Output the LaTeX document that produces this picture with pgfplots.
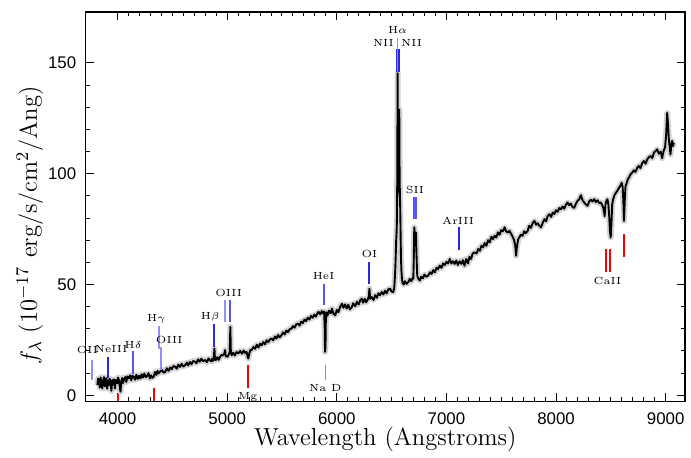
\documentclass[border=0pt]{standalone}
\usepackage{fontspec}
\usepackage{pgfplots}
\pgfplotsset{compat=1.18}
\newfontfamily\sansnum{Liberation Sans}
\newcommand\lbl{\fontsize{5.2}{6}\selectfont}
\definecolor{lineblue}{RGB}{40,40,235}
\definecolor{midblue}{RGB}{85,85,240}
\definecolor{lightblue}{RGB}{145,145,245}
\definecolor{linered}{RGB}{250,0,0}

% spectrum (Angstrom, flux)
\pgfplotstableread{
lam flux
3816 4.6
3823 7.5
3830 6.9
3838 3.5
3846 8.0
3853 5.0
3861 3.1
3868 6.5
3876 8.2
3884 4.0
3891 6.1
3899 7.8
3906 3.0
3914 6.8
3921 4.6
3929 7.5
3937 5.5
3944 2.0
3952 6.9
3960 5.0
3968 7.2
3976 3.1
3984 7.0
3990 5.5
3997 5.4
4005 8.0
4012 6.9
4020 4.0
4027 1.6
4035 6.5
4043 7.8
4050 5.5
4058 6.9
4070 8.2
4080 6.0
4090 8.5
4103 7.6
4115 9.0
4125 6.8
4136 8.8
4148 8.4
4160 7.0
4172 9.2
4185 7.4
4197 8.8
4209 7.6
4220 9.5
4232 8.0
4245 9.8
4258 8.2
4270 8.8
4282 10.0
4295 7.6
4305 9.0
4318 7.9
4330 8.4
4342 10.5
4355 9.2
4365 11.0
4375 9.9
4390 10.8
4406 11.4
4420 10.2
4436 10.6
4450 12.2
4465 11.0
4480 12.5
4495 11.8
4510 13.2
4527 12.9
4540 12.0
4555 13.8
4570 12.8
4585 14.2
4600 13.0
4618 13.6
4632 14.8
4645 13.5
4660 15.0
4675 14.0
4690 15.5
4708 15.1
4720 14.5
4735 16.2
4750 15.2
4765 16.5
4780 15.4
4799 15.9
4815 15.0
4830 16.6
4845 15.6
4855 15.4
4862 16.5
4870 15.5
4878 17.0
4884 21.1
4889 16.0
4897 15.9
4910 17.2
4922 16.0
4936 17.4
4948 18.2
4962 18.0
4975 19.0
4981 20.4
4988 17.5
4998 17.8
5005 17.4
5015 18.5
5024 19.5
5029 30.9
5034 19.0
5042 18.1
5055 19.2
5070 18.0
5085 19.5
5102 18.9
5118 20.0
5135 18.8
5150 20.2
5165 19.0
5178 19.6
5186 17.5
5193 16.6
5200 18.5
5212 20.5
5224 20.4
5240 21.8
5255 21.0
5270 22.8
5285 21.6
5300 23.2
5314 22.6
5330 24.0
5345 23.0
5360 24.8
5375 24.0
5390 25.2
5405 25.6
5420 24.8
5435 26.5
5450 25.6
5465 27.2
5480 26.2
5496 27.1
5510 28.4
5525 27.5
5540 29.2
5555 28.5
5570 29.8
5587 30.1
5600 31.2
5615 30.5
5630 32.0
5647 32.3
5660 31.5
5675 33.2
5690 32.6
5705 34.2
5720 33.5
5735 35.0
5750 34.2
5765 35.8
5780 35.0
5795 36.4
5810 35.5
5825 37.2
5835 37.6
5850 36.5
5862 38.0
5875 37.0
5885 37.8
5890 30.0
5893 19.6
5897 22.0
5900 33.0
5906 37.5
5915 36.0
5930 38.2
5945 37.0
5956 39.1
5970 36.8
5986 36.1
6000 38.5
6015 37.5
6030 39.8
6047 41.3
6060 39.5
6075 41.0
6090 39.2
6105 40.8
6120 38.8
6137 39.8
6150 41.5
6168 40.2
6185 42.2
6200 41.0
6215 43.0
6228 43.6
6240 41.8
6255 43.5
6268 42.0
6280 43.0
6292 44.5
6298 48.1
6304 43.5
6319 44.3
6335 43.0
6350 45.2
6365 44.0
6380 46.0
6395 45.2
6410 46.6
6425 45.5
6440 47.2
6455 46.0
6470 47.8
6486 48.1
6500 46.8
6516 46.6
6525 49.0
6532 55.0
6537 61.5
6542 70.0
6546 73.7
6549 80.0
6552 100.0
6555 145.4
6558 110.0
6561 91.6
6564 95.0
6567 115.0
6570 128.9
6573 100.0
6576 90.0
6579 84.0
6583 70.0
6586 61.5
6590 56.0
6594 53.0
6598 51.1
6610 50.0
6622 51.5
6637 50.3
6652 51.1
6665 52.5
6680 51.5
6692 53.0
6698 52.6
6702 60.0
6707 75.8
6711 70.0
6716 67.5
6719 70.0
6722 73.5
6727 64.0
6731 58.0
6734 54.0
6745 52.5
6758 51.8
6770 53.5
6785 52.8
6800 54.5
6815 53.5
6834 54.0
6850 55.5
6865 54.8
6880 56.5
6895 55.5
6910 57.5
6925 57.0
6940 58.5
6955 57.5
6970 59.5
6985 58.8
7000 60.2
7015 59.5
7031 61.5
7045 59.5
7060 60.5
7076 59.3
7090 60.8
7105 58.8
7120 60.5
7137 59.3
7150 61.0
7165 58.5
7180 61.5
7197 59.5
7210 62.5
7225 61.5
7240 64.0
7258 64.5
7275 64.0
7290 66.0
7305 65.2
7320 67.5
7335 66.8
7349 68.7
7365 67.5
7380 70.0
7395 69.0
7410 71.5
7425 70.5
7440 72.0
7455 71.2
7470 73.5
7485 72.5
7500 74.5
7515 74.0
7531 75.8
7545 74.0
7560 73.5
7575 74.2
7591 72.8
7605 71.5
7618 70.0
7628 67.5
7636 63.0
7643 67.0
7655 70.5
7667 71.4
7680 72.5
7695 72.0
7710 74.0
7725 73.2
7742 74.3
7755 76.5
7770 75.5
7788 77.8
7803 78.7
7818 77.0
7833 77.6
7848 76.5
7863 75.8
7880 78.0
7895 79.5
7910 78.5
7925 81.0
7939 81.7
7955 80.5
7970 82.5
7985 81.8
8000 83.5
8015 82.8
8030 84.5
8045 84.0
8060 85.2
8075 84.2
8090 86.0
8106 87.0
8120 85.8
8135 86.5
8150 85.0
8166 84.6
8182 86.5
8197 87.8
8212 88.5
8227 90.3
8242 88.0
8257 87.0
8272 86.2
8287 85.5
8302 87.5
8317 88.2
8333 87.5
8348 88.5
8363 87.2
8378 88.0
8393 86.8
8408 87.0
8420 86.0
8432 84.5
8444 80.8
8452 86.5
8462 88.0
8469 88.5
8478 86.0
8486 80.0
8492 74.0
8499 71.2
8506 78.0
8512 86.0
8521 88.5
8535 90.5
8548 91.5
8562 92.5
8575 93.7
8587 94.5
8599 95.9
8608 94.0
8614 88.0
8620 78.7
8627 88.0
8634 94.5
8641 95.2
8655 97.5
8668 98.5
8680 99.7
8695 100.5
8710 101.5
8725 100.8
8741 102.7
8755 103.5
8770 102.5
8786 104.8
8802 105.7
8817 104.5
8832 106.5
8848 107.5
8863 108.0
8878 107.0
8893 109.5
8908 110.2
8923 111.0
8938 109.0
8955 110.0
8968 107.0
8980 110.0
8995 112.0
9005 118.0
9014 127.4
9022 122.0
9029 115.5
9037 112.0
9044 108.7
9052 113.0
9059 114.8
9067 112.5
9075 114.0
}\spec

\begin{document}
\begin{tikzpicture}
\begin{axis}[
  scale only axis,
  width=301bp, height=195.5bp,
  xmin=3709, xmax=9177,
  ymin=-2.7, ymax=173,
  xtick={4000,5000,...,9000},
  ytick={0,50,100,150},
  minor x tick num=9,
  minor y tick num=4,
  tick align=inside,
  major tick length=4bp,
  minor tick length=2bp,
  axis line style={line width=0.6bp},
  every tick/.style={black, line width=0.5bp},
  ticklabel style={font=\sansnum\fontsize{8.5}{9}\selectfont},
  xticklabel style={yshift=-2bp},
  yticklabel style={xshift=-1.2bp},
  /pgf/number format/assume math mode=true,
  /pgf/number format/1000 sep={},
  xlabel={Wavelength (Angstroms)},
  ylabel={$f_\lambda$ (10$^{-17}$ erg/s/cm$^2$/Ang)},
  label style={font=\fontsize{12.4}{14}\selectfont},
  xlabel style={at={(axis description cs:0.5,-0.097)}, anchor=center},
  ylabel style={at={(axis description cs:-0.093,0.452)}, anchor=center},
  clip=false,
]
% error band and spectrum
\addplot[gray!35, line width=3bp, line join=round] table[x=lam, y=flux] {\spec};
\addplot[black, line width=0.95bp, line join=round] table[x=lam, y=flux] {\spec};

% emission line markers
\addplot[lightblue, line width=1bp] coordinates {(3770,6.9) (3770,15.9)};
\addplot[lineblue, line width=1bp] coordinates {(3916,7.6) (3916,17.5)};
\addplot[midblue, line width=1bp] coordinates {(4143,9.4) (4143,19.8)};
\addplot[lightblue, line width=1bp] coordinates {(4375,21.1) (4375,31.4)};
\addplot[lightblue, line width=1bp] coordinates {(4400,11.2) (4400,21.6)};
\addplot[lineblue, line width=1bp] coordinates {(4884,22.0) (4884,32.3)};
\addplot[lightblue, line width=1bp] coordinates {(4981,33.1) (4981,42.8)};
\addplot[midblue, line width=1bp] coordinates {(5029,33.1) (5029,42.8)};
\addplot[midblue, line width=1bp] coordinates {(5880,40.6) (5880,50.3)};
\addplot[lineblue, line width=1bp] coordinates {(6298,50.3) (6298,60.3)};
\addplot[lightblue, line width=0.5bp] coordinates {(6555,146.1) (6555,161.3)};
\addplot[lineblue, line width=0.8bp] coordinates {(6546,146.1) (6546,156.2)};
\addplot[lineblue, line width=0.8bp] coordinates {(6570,146.1) (6570,156.2)};
\addplot[midblue, line width=1.6bp] coordinates {(6713,79.5) (6713,89.4)};
\addplot[lineblue, line width=1bp] coordinates {(7115,65.7) (7115,75.9)};

% absorption line markers
\addplot[linered, line width=1bp] coordinates {(4005,-2.7) (4005,0.45)};
\addplot[linered, line width=1bp] coordinates {(4330,-2.7) (4330,3.1)};
\addplot[linered, line width=1bp] coordinates {(5187,3.1) (5187,13.5)};
\addplot[linered!60, line width=0.7bp] coordinates {(5896,6.9) (5896,13.6)};
\addplot[linered, line width=1bp] coordinates {(8453,55.7) (8453,66.0)};
\addplot[linered, line width=1bp] coordinates {(8493,55.7) (8493,66.0)};
\addplot[linered, line width=0.7bp] coordinates {(8620,62.4) (8620,72.8)};

% labels
\node[font=\lbl, inner sep=0.5pt] at (axis cs:3725,20.3) {OII};
\node[font=\lbl, inner sep=0.5pt] at (axis cs:3942,20.7) {NeIII};
\node[font=\lbl] at (axis cs:4143,22.9) {H$\delta$};
\node[font=\lbl] at (axis cs:4354,34.6) {H$\gamma$};
\node[font=\lbl] at (axis cs:4472,24.8) {OIII};
\node[font=\lbl] at (axis cs:4845,35.5) {H$\beta$};
\node[font=\lbl] at (axis cs:5013,46.3) {OIII};
\node[font=\lbl] at (axis cs:5880,54.0) {HeI};
\node[font=\lbl] at (axis cs:6298,63.8) {OI};
\node[font=\lbl] at (axis cs:6555,164.9) {H$\alpha$};
\node[font=\lbl] at (axis cs:6425,159.2) {NII};
\node[font=\lbl] at (axis cs:6682,159.2) {NII};
\node[font=\lbl] at (axis cs:6713,92.7) {SII};
\node[font=\lbl] at (axis cs:7106,78.8) {ArIII};
\node[font=\lbl] at (axis cs:5187,-0.6) {Mg};
\node[font=\lbl] at (axis cs:5896,3.1) {Na D};
\node[font=\lbl] at (axis cs:8469,51.7) {CaII};
\end{axis}
\path[use as bounding box] ([shift={(-43bp,-26.5bp)}]current axis.south west)
  rectangle ([shift={(1.5bp,6bp)}]current axis.north east);
\end{tikzpicture}
\end{document}
